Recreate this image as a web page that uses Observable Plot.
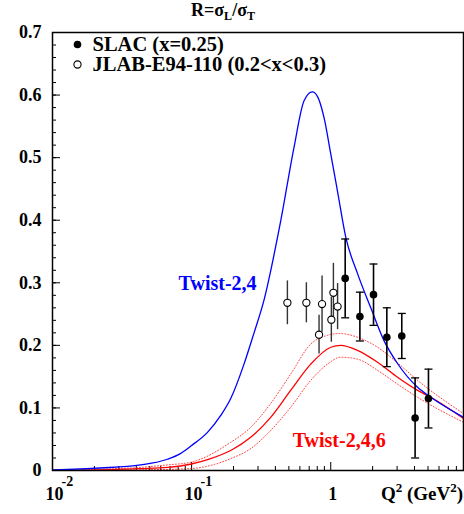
<!DOCTYPE html>
<html><head><meta charset="utf-8">
<script src="https://cdn.jsdelivr.net/npm/d3@7"></script>
<script src="https://cdn.jsdelivr.net/npm/@observablehq/plot@0.6"></script>
<style>body{margin:0;background:#fff}svg{display:block}</style>
</head><body><div id="chart"></div>
<script>
// Twist-2,4 curve (blue)
const blueQ = [0.01, 0.022, 0.043, 0.067, 0.083, 0.1, 0.13, 0.162, 0.191, 0.238, 0.281, 0.331, 0.437, 0.544, 0.643, 0.738, 0.802, 0.895, 1.0, 1.117, 1.282, 1.556, 1.94, 2.41, 3.02, 4.21, 5.24, 9.0];
const blueR = [0.001, 0.004, 0.009, 0.018, 0.027, 0.040, 0.061, 0.088, 0.115, 0.170, 0.220, 0.272, 0.399, 0.516, 0.591, 0.605, 0.598, 0.564, 0.506, 0.447, 0.373, 0.315, 0.260, 0.208, 0.171, 0.133, 0.117, 0.085];
// Twist-2,4,6 curve (red) and its band
const redQ = [0.01, 0.022, 0.043, 0.067, 0.098, 0.137, 0.191, 0.266, 0.37, 0.515, 0.718, 1.0, 1.18, 1.556, 2.17, 3.02, 4.21, 5.24, 9.0];
const redR = [0.0, 0.001, 0.003, 0.005, 0.010, 0.019, 0.032, 0.053, 0.085, 0.128, 0.170, 0.197, 0.200, 0.192, 0.173, 0.149, 0.128, 0.117, 0.083];
const redHiQ = [0.01, 0.022, 0.043, 0.067, 0.098, 0.191, 0.266, 0.37, 0.515, 0.718, 0.947, 1.15, 1.556, 2.17, 3.02, 4.21, 9.0];
const redHiR = [0.0, 0.002, 0.005, 0.009, 0.013, 0.045, 0.069, 0.107, 0.154, 0.202, 0.216, 0.219, 0.213, 0.197, 0.172, 0.144, 0.091];
const redLoQ = [0.01, 0.022, 0.043, 0.098, 0.191, 0.266, 0.37, 0.515, 0.718, 0.947, 1.18, 1.556, 2.17, 3.02, 4.21, 9.0];
const redLoR = [0.0, 0.0, 0.001, 0.003, 0.019, 0.035, 0.064, 0.101, 0.144, 0.170, 0.181, 0.178, 0.160, 0.138, 0.117, 0.077];
// SLAC (x=0.25)
const slacQ = [1.27, 1.62, 2.03, 2.53, 3.24, 4.04, 5.04];
const slacR = [0.307, 0.246, 0.281, 0.213, 0.215, 0.084, 0.115];
const slacE = [0.063, 0.039, 0.049, 0.047, 0.036, 0.064, 0.047];
// JLAB-E94-110 (0.2<x<0.3)
const jlabQ = [0.488, 0.668, 0.824, 0.866, 1.01, 1.045, 1.12];
const jlabR = [0.268, 0.268, 0.217, 0.266, 0.241, 0.284, 0.262];
const jlabE = [0.035, 0.032, 0.031, 0.045, 0.036, 0.047, 0.037];
// ticks
const xMajor = [0.01, 0.1, 1];
const xMinor = [0.02,0.03,0.04,0.05,0.06,0.07,0.08,0.09,0.2,0.3,0.4,0.5,0.6,0.7,0.8,0.9,2,3,4,5,6,7,8,9];
const xExp = ["-2", "-1", null];
const yMajor = [0, 0.1, 0.2, 0.3, 0.4, 0.5, 0.6, 0.7];
const yMinor = d3.range(0, 35).map(i => +(i * 0.02).toFixed(2));

const pts = (q, r) => q.map((d, i) => ({q: d, r: r[i]}));
const errPts = (q, r, e) => q.map((d, i) => ({q: d, r: r[i], e: e[i]}));
const slac = errPts(slacQ, slacR, slacE);
const jlab = errPts(jlabQ, jlabR, jlabE);
const xLabels = xMajor.map((d, i) => ({q: d, exp: xExp[i]}));

const font = "'Liberation Serif','Times New Roman',serif";
const capSymbol = {draw(ctx, size) { const w = Math.sqrt(size / Math.PI); ctx.moveTo(-w, 0); ctx.lineTo(w, 0); }};
const crv = "monotone-x";

const chart = Plot.plot({
  width: 464, height: 514,
  marginLeft: 52, marginRight: 1, marginTop: 32, marginBottom: 44,
  style: {fontFamily: font, fontWeight: "bold", background: "white", color: "black", overflow: "visible"},
  x: {type: "log", domain: [0.01, 9]},
  y: {domain: [0, 0.7]},
  marks: [
    Plot.axisY({ticks: yMinor, tickSize: -4, fill: "none", label: null}),
    Plot.axisY({ticks: yMajor, tickSize: -8, fill: "none", label: null}),
    Plot.axisY({ticks: yMajor, tickSize: 0, tickPadding: 11, fontSize: 18, label: null,
      tickFormat: d => d === 0 ? "0" : d.toFixed(1)}),
    Plot.axisX({ticks: xMinor, tickSize: -4, fill: "none", label: null}),
    Plot.axisX({ticks: xMajor, tickSize: -8, fill: "none", label: null}),
    Plot.text(xLabels, {x: "q", frameAnchor: "bottom", text: d => d.exp ? "10" : "1",
      textAnchor: d => d.exp ? "end" : "middle", dx: 2, dy: 24, fontSize: 18, lineAnchor: "middle"}),
    Plot.text(xLabels.filter(d => d.exp), {x: "q", frameAnchor: "bottom", text: "exp",
      textAnchor: "start", dx: 9, dy: 11, fontSize: 14, lineAnchor: "middle"}),
    Plot.line(pts(redHiQ, redHiR), {x: "q", y: "r", stroke: "#ff0000", strokeOpacity: 0.75, strokeWidth: 1, strokeDasharray: "1,2", curve: crv, clip: true}),
    Plot.line(pts(redLoQ, redLoR), {x: "q", y: "r", stroke: "#ff0000", strokeOpacity: 0.75, strokeWidth: 1, strokeDasharray: "1,2", curve: crv, clip: true}),
    Plot.line(pts(redQ, redR), {x: "q", y: "r", stroke: "#ff0000", strokeWidth: 1.3, curve: crv, clip: true}),
    Plot.line(pts(blueQ, blueR), {x: "q", y: "r", stroke: "#0000ff", strokeWidth: 1.3, curve: crv, clip: true}),
    Plot.ruleX(jlab, {x: "q", y1: d => d.r - d.e, y2: d => d.r + d.e, stroke: "#333", strokeWidth: 1.4}),
    Plot.ruleX(slac, {x: "q", y1: d => d.r - d.e, y2: d => d.r + d.e, stroke: "black", strokeWidth: 1.6}),
    Plot.dot(slac, {x: "q", y: d => d.r + d.e, symbol: capSymbol, r: 4, stroke: "black", strokeWidth: 1.3}),
    Plot.dot(slac, {x: "q", y: d => d.r - d.e, symbol: capSymbol, r: 4, stroke: "black", strokeWidth: 1.3}),
    Plot.dot(jlab, {x: "q", y: "r", r: 3.6, fill: "white", stroke: "black", strokeWidth: 1.1}),
    Plot.dot(slac, {x: "q", y: "r", r: 3.8, fill: "black"}),
    Plot.text(["Twist-2,4"], {x: 0.0806, y: 0.299, fill: "#0000ff", fontSize: 20, textAnchor: "start", lineAnchor: "middle"}),
    Plot.text(["Twist-2,4,6"], {x: 0.533, y: 0.048, fill: "#ff0000", fontSize: 20, textAnchor: "start", lineAnchor: "middle"}),
    Plot.dot([0], {frameAnchor: "top-left", dx: 25, dy: 12, r: 3.8, fill: "black"}),
    Plot.dot([0], {frameAnchor: "top-left", dx: 25, dy: 32, r: 3.6, fill: "white", stroke: "black", strokeWidth: 1.1}),
    Plot.text(["SLAC (x=0.25)"], {frameAnchor: "top-left", dx: 40, dy: 12, textAnchor: "start", lineAnchor: "middle", fontSize: 20.5}),
    Plot.text(["JLAB-E94-110 (0.2<x<0.3)"], {frameAnchor: "top-left", dx: 40, dy: 32, textAnchor: "start", lineAnchor: "middle", fontSize: 20.5}),
    Plot.frame({stroke: "black", strokeWidth: 1.5})
  ]
});

const svg = d3.select(chart);
// title R = sigma_L / sigma_T
const title = svg.append("text").attr("x", 223).attr("y", 16).attr("text-anchor", "middle")
  .attr("font-family", font).attr("font-weight", "bold").attr("font-size", 18).attr("fill", "black");
title.append("tspan").text("R=σ");
title.append("tspan").attr("font-size", 12).attr("dy", 4).text("L");
title.append("tspan").attr("dy", -4).text("/σ");
title.append("tspan").attr("font-size", 12).attr("dy", 4).text("T");
// x-axis label Q^2 (GeV^2)
const xl = svg.append("text").attr("x", 463).attr("y", 500).attr("text-anchor", "end")
  .attr("font-family", font).attr("font-weight", "bold").attr("font-size", 19).attr("fill", "black");
xl.append("tspan").text("Q");
xl.append("tspan").attr("font-size", 13).attr("dy", -8).text("2");
xl.append("tspan").attr("dy", 8).text(" (GeV");
xl.append("tspan").attr("font-size", 13).attr("dy", -8).text("2");
xl.append("tspan").attr("dy", 8).text(")");

document.getElementById("chart").appendChild(chart);
</script>
</body></html>
